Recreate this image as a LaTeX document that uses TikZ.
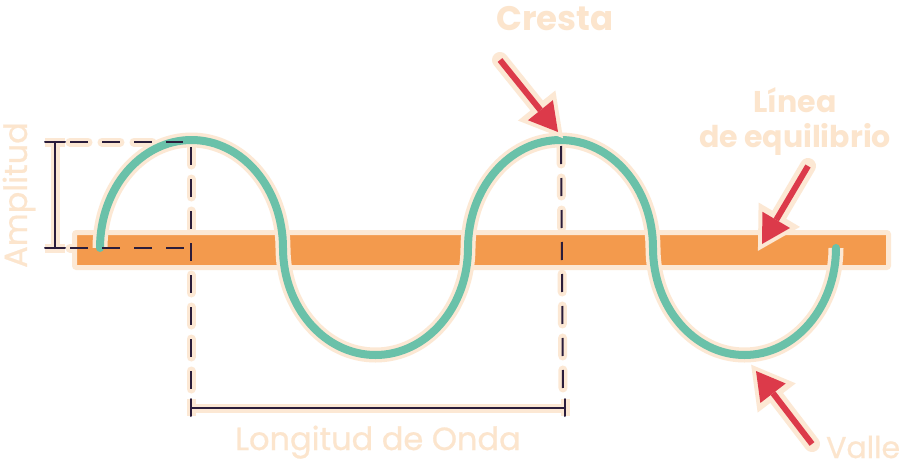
\documentclass[tikz,border=0pt]{standalone}
\usepackage{fontspec}
\setmainfont{Poppins}
\newfontfamily\mediumfont{Poppins}[FakeBold=0.7]
\usetikzlibrary{arrows.meta}

\definecolor{haloCream}{HTML}{FCE8D4}
\definecolor{labelCream}{HTML}{FCE5CD}
\definecolor{barOrange}{HTML}{F39A4D}
\definecolor{waveTeal}{HTML}{6AC1A9}
\definecolor{arrowRed}{HTML}{DC3A4A}
\definecolor{inkDark}{HTML}{2B1D3B}

\tikzset{
  haloed/.style args={#1 colored by #2}{
    line width=#1,#2,line cap=round, % line
    preaction={draw,haloCream,line width=#1+7pt}, % halo
  },
  guide halo/.style={haloCream,line width=9pt,line cap=round,dash pattern=on 18pt off 14pt},
  guide/.style={inkDark,line width=2pt,dash pattern=on 18pt off 14pt},
  pointer/.style={
    -{Triangle[length=28pt,width=32pt,line width=0pt]},line width=6pt,arrowRed, % arrow
    preaction={draw,haloCream,line width=16pt,line cap=round,
               -{Triangle[length=42pt,width=48pt,line width=0pt]},shorten >=-8pt}, % halo
  },
  lbl/.style={text=labelCream,inner sep=0pt,anchor=base},
}

\begin{document}
\begin{tikzpicture}[x=1pt,y=-1pt]
  \fill[white] (0,0) rectangle (900,469);
  \useasboundingbox (0,0) rectangle (900,469);

  % guide points
  \coordinate (amp-top) at (55,142);
  \coordinate (amp-bot) at (55,248);
  \coordinate (top-from) at (70,142);
  \coordinate (top-to) at (183,142);
  \coordinate (base-from) at (70,248);
  \coordinate (base-to) at (191,248);
  \coordinate (crest-one) at (191,147);
  \coordinate (foot-one) at (191,392);
  \coordinate (crest-two) at (561,146);
  \coordinate (foot-two) at (563,392);
  \coordinate (len-left) at (191,408);
  \coordinate (len-right) at (565,408);
  \coordinate (wave-start) at (100,248);

  \foreach \a/\b in {top-from/top-to,base-from/base-to,crest-one/foot-one,crest-two/foot-two}
    \draw[guide halo] (\a) -- (\b);

  % equilibrium bar
  \filldraw[fill=barOrange,draw=haloCream,line width=5pt,rounded corners=2pt]
    (74.5,232.5) rectangle (888.5,267.5);

  % the wave
  \draw[haloed=8pt colored by waveTeal]
    (wave-start) arc[start angle=180,end angle=360,x radius=91.5,y radius=108]
    arc[start angle=180,end angle=0,x radius=92.5,y radius=107]
    arc[start angle=180,end angle=360,x radius=92.5,y radius=108]
    arc[start angle=180,end angle=0,x radius=91.5,y radius=107];

  \foreach \a/\b in {top-from/top-to,base-from/base-to,crest-one/foot-one,crest-two/foot-two}
    \draw[guide] (\a) -- (\b);

  % brackets
  \draw[haloed=2pt colored by inkDark]
    ([xshift=-10pt]amp-top) -- ([xshift=10pt]amp-top)
    (amp-top) -- (amp-bot)
    ([xshift=-10pt]amp-bot) -- ([xshift=10pt]amp-bot);
  \draw[haloed=2pt colored by inkDark]
    ([yshift=9pt]len-left) -- ([yshift=-8pt]len-left)
    (len-left) -- (len-right)
    ([yshift=9pt]len-right) -- ([yshift=-8pt]len-right);

  % pointers
  \coordinate (cresta-tail) at (500,60);
  \coordinate (cresta-tip) at (558,132);
  \coordinate (linea-tail) at (808,166);
  \coordinate (linea-tip) at (762,244);
  \coordinate (valle-tail) at (812,444);
  \coordinate (valle-tip) at (756,371);
  \draw[pointer] (cresta-tail) -- (cresta-tip);
  \draw[pointer] (linea-tail) -- (linea-tip);
  \draw[pointer] (valle-tail) -- (valle-tip);

  % labels
  \node[lbl,font=\bfseries\fontsize{34}{34}\selectfont] (cresta) at (555,30) {Cresta};
  \node[lbl,font=\bfseries\fontsize{30}{30}\selectfont] (linea) at (795,112) {Línea};
  \node[lbl,font=\bfseries\fontsize{30}{30}\selectfont] (equilibrio) at (795,147) {de equilibrio};
  \node[lbl,font=\mediumfont\fontsize{32}{32}\selectfont] (onda) at (378,450) {Longitud de Onda};
  \node[lbl,font=\mediumfont\fontsize{30}{30}\selectfont,anchor=base west] (valle) at (826,458) {Valle};
  \node[lbl,font=\mediumfont\fontsize{32}{32}\selectfont,rotate=90] (amplitud) at (27,195) {Amplitud};
\end{tikzpicture}
\end{document}
